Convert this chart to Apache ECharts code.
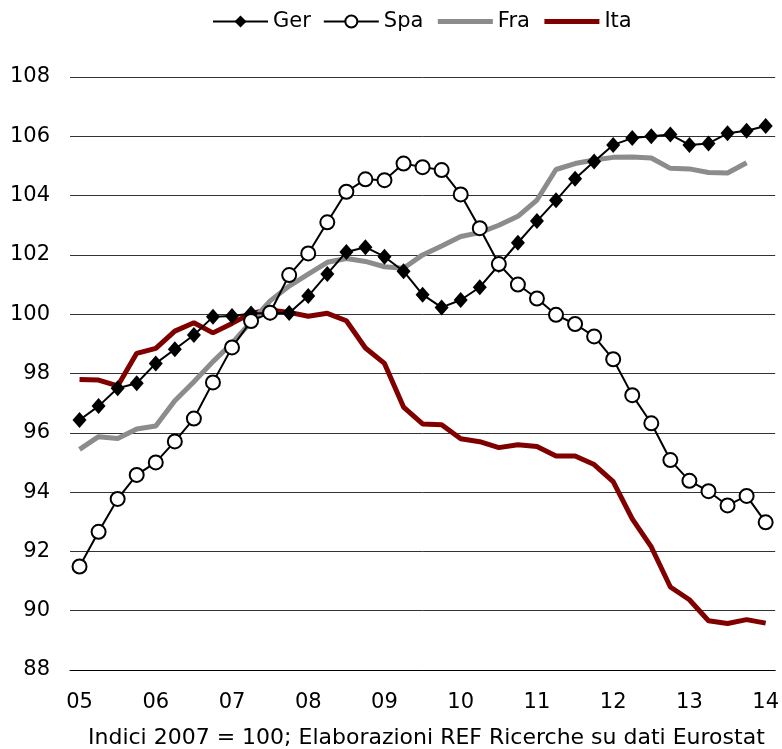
<!DOCTYPE html>
<html>
<head>
<meta charset="utf-8">
<script src="https://cdn.jsdelivr.net/npm/echarts@6/dist/echarts.min.js"></script>
<style>
  html, body { margin: 0; padding: 0; background: #fff; }
  #chart { width: 782px; height: 749px; }
</style>
</head>
<body>
<div id="chart"></div>
<script>
// quarterly, 2005Q1 .. 2014Q1
const quarters = [];
for (let y = 5; y <= 14; y++) {
   for (let q = 1; q <= 4; q++) {
      if (y === 14 && q > 1) break;
      quarters.push((y < 10 ? "0" : "") + y + "Q" + q);
   }
}

const ger = [96.43, 96.9, 97.5, 97.67, 98.34, 98.82, 99.3, 99.91, 99.94, 100.02, 100.04, 100.04,
   100.61, 101.36, 102.1, 102.26, 101.94, 101.45, 100.66, 100.23, 100.48, 100.91, 101.66, 102.41,
   103.14, 103.84, 104.57, 105.15, 105.71, 105.94, 106.0, 106.06, 105.71, 105.76, 106.1, 106.19, 106.35];

const spa = [91.49, 92.66, 93.77, 94.58, 95.0, 95.71, 96.48, 97.7, 98.88, 99.77, 100.05, 101.32,
   102.05, 103.1, 104.13, 104.55, 104.52, 105.08, 104.96, 104.86, 104.04, 102.9, 101.69, 101.0,
   100.53, 99.98, 99.67, 99.25, 98.48, 97.27, 96.32, 95.08, 94.38, 94.03, 93.55, 93.87, 92.98];

const fra = [95.44, 95.87, 95.81, 96.13, 96.23, 97.08, 97.72, 98.4, 99.02, 99.74, 100.45, 100.95,
   101.35, 101.75, 101.88, 101.78, 101.6, 101.55, 102.0, 102.3, 102.62, 102.75, 103.0, 103.3,
   103.85, 104.88, 105.08, 105.2, 105.29, 105.3, 105.27, 104.92, 104.9, 104.78, 104.76, 105.11, null];

const ita = [97.8, 97.78, 97.58, 98.68, 98.85, 99.43, 99.71, 99.37, 99.69, 100.03, 100.14, 100.06,
   99.93, 100.03, 99.78, 98.86, 98.34, 96.87, 96.3, 96.27, 95.8, 95.7, 95.5, 95.6,
   95.54, 95.22, 95.22, 94.93, 94.35, 93.1, 92.15, 90.8, 90.37, 89.66, 89.57, 89.7, 89.58];

const FONT = "DejaVu Sans";

const chart = echarts.init(document.getElementById("chart"), null, { renderer: "canvas" });

chart.setOption({
   animation: false,
   textStyle: { fontFamily: FONT, color: "#000" },
   legend: {
      top: 6,
      left: 207,
      itemWidth: 55,
      itemHeight: 15,
      itemGap: 12,
      textStyle: { fontSize: 21, color: "#000", fontFamily: FONT },
      data: [
         "Ger",
         "Spa",
         { name: "Fra", itemStyle: { opacity: 0 }, lineStyle: { width: 5 } },
         { name: "Ita", itemStyle: { opacity: 0 }, lineStyle: { width: 5 } },
      ],
   },
   grid: { left: 70, right: 5, top: 77, bottom: 79, containLabel: false },
   xAxis: {
      type: "category",
      data: quarters,
      boundaryGap: true,
      axisLine: { lineStyle: { color: "#000", width: 1 } },
      axisTick: { interval: 3, length: 5, lineStyle: { color: "#000" } },
      axisLabel: {
         interval: 3,
         margin: 22,
         fontSize: 21,
         color: "#000",
         formatter: (v) => v.slice(0, 2),
      },
      splitLine: { show: false },
   },
   yAxis: {
      type: "value",
      min: 88,
      max: 108,
      interval: 2,
      axisLine: { show: false },
      axisTick: { show: false },
      axisLabel: { fontSize: 21, color: "#000", margin: 20 },
      splitLine: { lineStyle: { color: "#333", width: 1 } },
   },
   series: [
      {
         name: "Ger",
         type: "line",
         data: ger,
         z: 4,
         symbol: "diamond",
         symbolSize: [14, 16],
         showAllSymbol: true,
         itemStyle: { color: "#000" },
         lineStyle: { color: "#000", width: 2 },
      },
      {
         name: "Spa",
         type: "line",
         data: spa,
         z: 5,
         symbol: "circle",
         symbolSize: 14,
         showAllSymbol: true,
         itemStyle: { color: "#fff", borderColor: "#000", borderWidth: 2 },
         lineStyle: { color: "#000", width: 2 },
      },
      {
         name: "Fra",
         type: "line",
         data: fra,
         z: 3,
         symbol: "none",
         itemStyle: { color: "#8c8c8c" },
         lineStyle: { color: "#8c8c8c", width: 5 },
      },
      {
         name: "Ita",
         type: "line",
         data: ita,
         z: 2,
         symbol: "none",
         itemStyle: { color: "#800000" },
         lineStyle: { color: "#800000", width: 5 },
      },
   ],
   graphic: [
      {
         type: "text",
         left: 88,
         top: 727,
         style: {
            text: "Indici 2007 = 100; Elaborazioni REF Ricerche su dati Eurostat",
            font: "22px " + FONT,
            fill: "#000",
         },
      },
   ],
});
</script>
</body>
</html>
